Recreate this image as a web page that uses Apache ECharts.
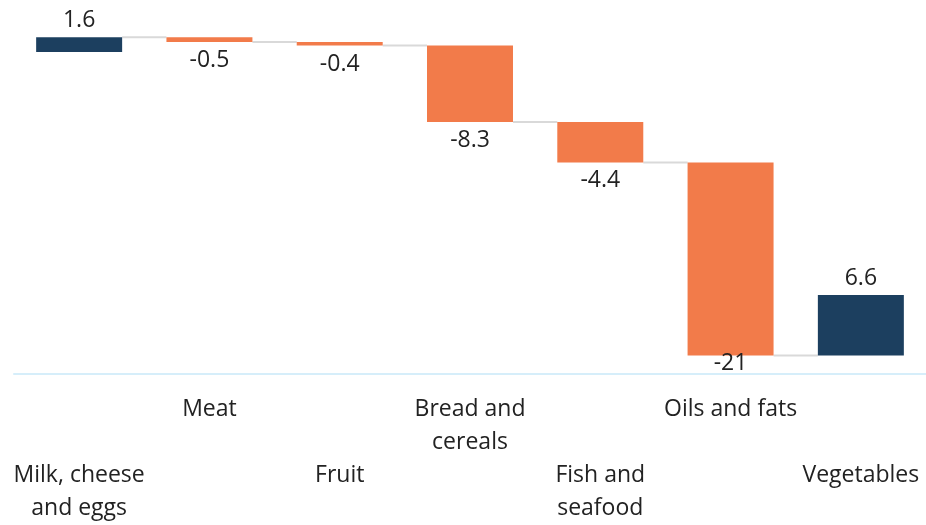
<!DOCTYPE html>
<html>
<head>
<meta charset="utf-8">
<title>Waterfall</title>
<script src="https://cdn.jsdelivr.net/npm/echarts@6/dist/echarts.min.js"></script>
<style>
  html, body { margin: 0; padding: 0; background: #fff; }
  #main { width: 926px; height: 525px; }
</style>
</head>
<body>
<div id="main"></div>
<script>
// categories and their change values
var categories = ['Milk, cheese\nand eggs', 'Meat', 'Fruit', 'Bread and\ncereals', 'Fish and\nseafood', 'Oils and fats', 'Vegetables'];
var changes = [1.6, -0.5, -0.4, -8.3, -4.4, -21, 6.6];
var yMin = -35;
var yMax = 5;

var UP = '#1c3f5f';
var DOWN = '#f27b4a';
var FONT = '"Open Sans", sans-serif';

// running total -> [index, start, end, change]
var rows = [];
var total = 0;
changes.forEach(function (c, i) {
    rows.push([i, total, total + c, c]);
    total += c;
});

var myChart = echarts.init(document.getElementById('main'));

function renderItem(params, api) {
    var i = api.value(0);
    var start = api.value(1);
    var end = api.value(2);
    var change = api.value(3);
    var p0 = api.coord([i, start]);
    var p1 = api.coord([i, end]);
    var band = api.size([1, 0])[0];
    var bw = band * 0.66;
    var top = Math.min(p0[1], p1[1]);
    var bottom = Math.max(p0[1], p1[1]);
    var axisY = api.coord([i, yMin])[1];
    var kids = [];
    // connector to the next bar at the running total
    if (i < categories.length - 1) {
        kids.push({
            type: 'line',
            shape: { x1: p0[0] + bw / 2, y1: p1[1], x2: p0[0] + band - bw / 2, y2: p1[1] },
            style: { stroke: '#d9d9d9', lineWidth: 2 }
        });
    }
    kids.push({
        type: 'rect',
        shape: { x: p0[0] - bw / 2, y: top, width: bw, height: bottom - top },
        style: { fill: change >= 0 ? UP : DOWN }
    });
    var ty, va;
    if (change >= 0) {
        ty = top - 5; va = 'bottom';
    } else {
        ty = Math.min(bottom + 7, axisY - 22); va = 'top';
    }
    kids.push({
        type: 'text',
        style: {
            text: String(change),
            x: p0[0], y: ty,
            align: 'center', verticalAlign: va,
            fontSize: 23, fontFamily: FONT, fill: '#222'
        }
    });
    return { type: 'group', children: kids };
}

myChart.setOption({
    animation: false,
    grid: { left: 14, right: 0, top: 6, bottom: 149 },
    xAxis: {
        type: 'category',
        data: categories,
        axisLine: { onZero: false, lineStyle: { color: '#d6eefa', width: 2 } },
        axisTick: { show: false },
        axisLabel: {
            interval: 0,
            margin: 19,
            fontSize: 23,
            lineHeight: 33,
            fontFamily: FONT,
            color: '#222',
            formatter: function (v, idx) {
                return idx % 2 === 0 ? '\n\n' + v : v;
            }
        }
    },
    yAxis: {
        type: 'value',
        min: yMin,
        max: yMax,
        show: false,
        splitLine: { show: false }
    },
    series: [{
        type: 'custom',
        renderItem: renderItem,
        data: rows,
        encode: { x: 0, y: [1, 2] }
    }]
});
</script>
</body>
</html>
